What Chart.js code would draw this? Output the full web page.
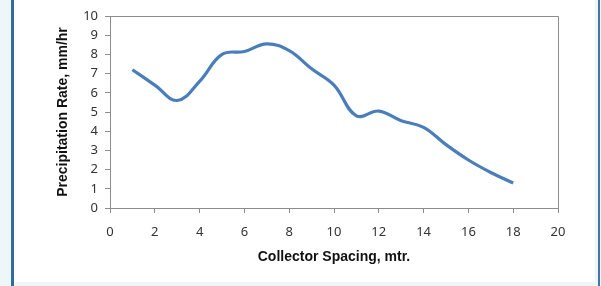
<!DOCTYPE html>
<html>
<head>
<meta charset="utf-8">
<script src="https://cdn.jsdelivr.net/npm/chart.js@4"></script>
<style>
  html, body { margin: 0; padding: 0; background: #eef6f9; }
  #wrap { width: 601px; height: 286px; position: relative; }
</style>
</head>
<body>
<div id="wrap"><canvas id="precipChart" width="601" height="286"></canvas></div>
<script>
// Collector spacing (m) and precipitation rate (mm/hr)
const spacing = [1, 2, 3, 4, 5, 6, 7, 8, 9, 10, 11, 12, 13, 14, 15, 16, 17, 18];
const precipRate = [7.2, 6.4, 5.6, 6.6, 8.0, 8.15, 8.55, 8.2, 7.25, 6.4, 4.8, 5.05, 4.55, 4.2, 3.3, 2.5, 1.85, 1.3];
const xTicks = [0, 2, 4, 6, 8, 10, 12, 14, 16, 18, 20];
const yTicks = [0, 1, 2, 3, 4, 5, 6, 7, 8, 9, 10];

// Page frame: white panel with blue edge, plus box round the plot area
const framePlugin = {
  id: "frame",
  beforeDraw: (chart) => {
    const ctx = chart.ctx;
    ctx.save();
    ctx.fillStyle = "#eef6f9";
    ctx.fillRect(0, 0, chart.width, chart.height);
    ctx.fillStyle = "#ffffff";
    ctx.fillRect(14, 0, 581, 282);
    ctx.fillStyle = "#2e6e98";
    ctx.fillRect(11, 0, 3, 286);
    ctx.fillStyle = "#3a7aa3";
    ctx.fillRect(598, 0, 2, 286);
    ctx.restore();
  },
  afterDatasetsDraw: (chart) => {
    const { ctx, chartArea: a } = chart;
    ctx.save();
    ctx.strokeStyle = "#8c8c8c";
    ctx.lineWidth = 1;
    ctx.beginPath();
    ctx.moveTo(a.left, a.top + 0.5);
    ctx.lineTo(a.right + 0.5, a.top + 0.5);
    ctx.lineTo(a.right + 0.5, a.bottom);
    ctx.stroke();
    ctx.restore();
  }
};

const ctx = document.getElementById("precipChart").getContext("2d");
new Chart(ctx, {
  type: "line",
  data: {
    datasets: [
      {
        label: "Precipitation Rate",
        data: spacing.map((x, i) => ({ x: x, y: precipRate[i] })),
        borderColor: "#4a7ebb",
        borderWidth: 3.2,
        pointRadius: 0,
        tension: 0.4,
        fill: false,
      },
    ],
  },
  options: {
    responsive: false,
    animation: false,
    layout: { padding: { left: 51, right: 43, top: 16, bottom: 0 } },
    plugins: {
      legend: { display: false },
      tooltip: { enabled: false },
    },
    scales: {
      x: {
        type: "linear",
        min: 0,
        max: 20,
        afterBuildTicks: (axis) => { axis.ticks = xTicks.map((v) => ({ value: v })); },
        afterFit: (axis) => { axis.height = 78; },
        border: { color: "#8c8c8c" },
        grid: { drawOnChartArea: false, tickLength: 5, color: "#8c8c8c" },
        ticks: {
          padding: 11,
          color: "#333",
          font: { family: "Noto Sans", size: 13 },
          maxRotation: 0,
        },
        title: {
          display: true,
          text: "Collector Spacing, mtr.",
          color: "#111",
          font: { family: "Liberation Sans", size: 14, weight: "bold" },
          padding: { top: 0, bottom: 20 },
        },
      },
      y: {
        min: 0,
        max: 10,
        afterBuildTicks: (axis) => { axis.ticks = yTicks.map((v) => ({ value: v })); },
        afterFit: (axis) => { axis.width = 59; },
        border: { color: "#8c8c8c" },
        grid: { drawOnChartArea: false, tickLength: 5, color: "#8c8c8c" },
        ticks: {
          padding: 7,
          color: "#333",
          font: { family: "Noto Sans", size: 13 },
        },
        title: {
          display: true,
          text: "Precipitation Rate, mm/hr",
          color: "#111",
          font: { family: "Liberation Sans", size: 14, weight: "bold" },
          padding: { top: 4, bottom: 0 },
        },
      },
    },
  },
  plugins: [framePlugin],
});
</script>
</body>
</html>
